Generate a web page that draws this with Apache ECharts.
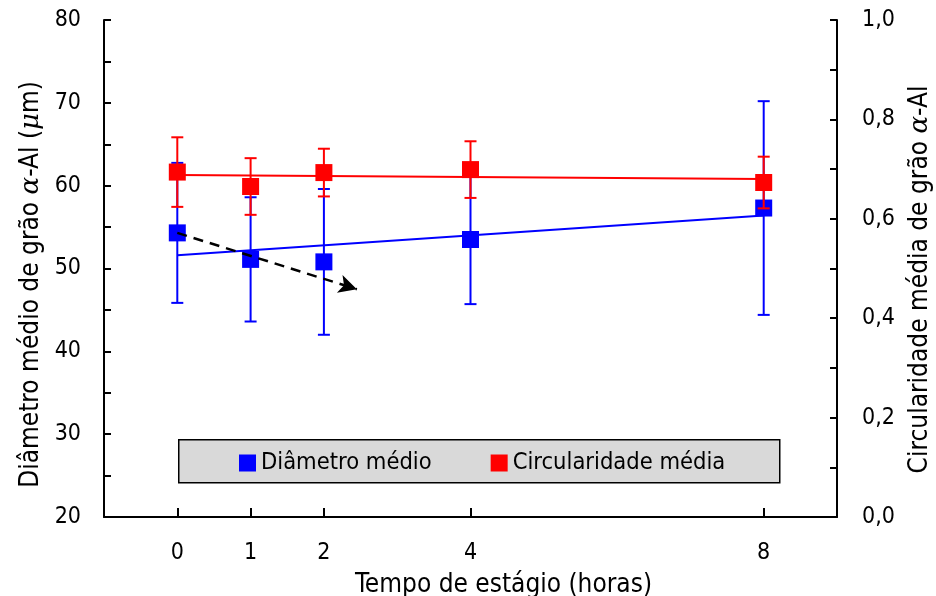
<!DOCTYPE html>
<html>
<head>
<meta charset="utf-8">
<script src="https://cdn.jsdelivr.net/npm/echarts@6/dist/echarts.min.js"></script>
<style>
html,body{margin:0;padding:0;background:#fff;overflow:hidden;}
#c{width:936px;height:596px;}
</style>
</head>
<body>
<div id="c"></div>
<script>
// ---- data ----
const hours = [0, 1, 2, 4, 8];
const xTicks = [0, 1, 2, 4, 8];
const diamMean = [54.3, 51.1, 50.8, 53.5, 57.3];
const diamErr = [8.45, 7.5, 8.8, 7.8, 12.9];
const circMean = [0.694, 0.665, 0.693, 0.699, 0.673];
const circErr = [0.070, 0.057, 0.048, 0.057, 0.052];
const diamTrendX = [0, 8];
const diamTrendY = [51.6, 56.4];
const circTrendX = [0, 8];
const circTrendY = [0.688, 0.680];
const arrowFrom = [0, 54.3];
const arrowTo = [2.45, 47.5];
const seriesNames = ['Diâmetro médio', 'Circularidade média'];

const FONT = '"DejaVu Sans Condensed", "Liberation Sans", sans-serif';
const BLUE = '#0000ff', RED = '#ff0000';

function pairs(xs, ys) { return xs.map((x, i) => [x, ys[i]]); }
function errData(xs, m, e) { return xs.map((x, i) => [x, m[i] - e[i], m[i] + e[i]]); }

function errRender(color) {
  return function (params, api) {
    const x = api.value(0);
    const pLo = api.coord([x, api.value(1)]);
    const pHi = api.coord([x, api.value(2)]);
    const hw = 6;
    const st = { stroke: color, lineWidth: 2 };
    return {
      type: 'group',
      children: [
        { type: 'line', shape: { x1: pLo[0], y1: pLo[1], x2: pHi[0], y2: pHi[1] }, style: st },
        { type: 'line', shape: { x1: pLo[0] - hw, y1: pLo[1], x2: pLo[0] + hw, y2: pLo[1] }, style: st },
        { type: 'line', shape: { x1: pHi[0] - hw, y1: pHi[1], x2: pHi[0] + hw, y2: pHi[1] }, style: st }
      ]
    };
  };
}

const chart = echarts.init(document.getElementById('c'), null, { renderer: 'canvas' });
const axisLineStyle = { color: '#000', width: 2 };
const richName = {
  i: { fontFamily: '"DejaVu Serif", serif', fontStyle: 'italic', fontSize: 26, color: '#000' }
};

chart.setOption({
  backgroundColor: '#fff',
  animation: false,
  textStyle: { fontFamily: FONT },
  grid: { left: 104, right: 99, top: 20, bottom: 79, containLabel: false, outerBoundsMode: 'none' },
  graphic: [{
    type: 'rect', left: 178, top: 439, z: 1,
    shape: { width: 601, height: 43 },
    style: { fill: '#d9d9d9', stroke: '#000', lineWidth: 1.5 }
  }],
  legend: {
    data: seriesNames.map(n => ({ name: n, icon: 'rect' })),
    left: 239, top: 451, padding: 0, z: 10,
    itemWidth: 17, itemHeight: 17, itemGap: 59,
    textStyle: { fontFamily: FONT, fontSize: 23.5, color: '#000', padding: [5, 0, 0, 0] },
    selectedMode: false
  },
  xAxis: {
    type: 'value', min: -1, max: 9,
    name: 'Tempo de estágio (horas)', nameLocation: 'middle', nameGap: 55,
    nameTextStyle: { fontFamily: FONT, fontSize: 26, color: '#000', padding: [0, 0, 0, 66] },
    axisLine: { show: true, onZero: false, lineStyle: axisLineStyle },
    axisTick: { show: true, inside: true, length: 9, customValues: xTicks, lineStyle: axisLineStyle },
    axisLabel: { customValues: xTicks, fontFamily: FONT, fontSize: 23, color: '#000', margin: 25 },
    splitLine: { show: false }
  },
  yAxis: [{
    type: 'value', min: 20, max: 80, interval: 5, position: 'left',
    name: 'Diâmetro médio de grão {i|α}-Al ({i|μ}m)', nameLocation: 'middle', nameGap: 60,
    nameTextStyle: { fontFamily: FONT, fontSize: 26, color: '#000', rich: richName, padding: [0, 32, 0, 0] },
    axisLine: { show: true, onZero: false, lineStyle: axisLineStyle },
    axisTick: { show: true, inside: true, length: 7, lineStyle: axisLineStyle },
    axisLabel: {
      fontFamily: FONT, fontSize: 23, color: '#000', margin: 23, padding: [6, 0, 0, 0],
      formatter: v => (Math.round(v) % 10 === 0 ? String(v) : '')
    },
    splitLine: { show: false }
  }, {
    type: 'value', min: 0, max: 1, interval: 0.1, position: 'right',
    name: 'Circularidade média de grão {i|α}-Al', nameLocation: 'middle', nameGap: 70,
    nameTextStyle: { fontFamily: FONT, fontSize: 26, color: '#000', rich: richName, padding: [0, 22, 0, 0] },
    axisLine: { show: true, onZero: false, lineStyle: axisLineStyle },
    axisTick: { show: true, inside: true, length: 7, lineStyle: axisLineStyle },
    axisLabel: {
      fontFamily: FONT, fontSize: 23, color: '#000', margin: 25, padding: [6, 0, 0, 0],
      formatter: v => (Math.round(v * 10) % 2 === 0 ? v.toFixed(1).replace('.', ',') : '')
    },
    splitLine: { show: false }
  }],
  series: [
    {
      name: 'diamTrend', type: 'line', yAxisIndex: 0, z: 2,
      data: pairs(diamTrendX, diamTrendY), symbol: 'none',
      lineStyle: { color: BLUE, width: 2 }, silent: true
    },
    {
      name: 'diamErr', type: 'custom', yAxisIndex: 0, z: 3,
      data: errData(hours, diamMean, diamErr), renderItem: errRender(BLUE), silent: true
    },
    {
      name: seriesNames[0], type: 'scatter', yAxisIndex: 0, z: 4,
      data: pairs(hours, diamMean), symbol: 'rect', symbolSize: 17,
      itemStyle: { color: BLUE, opacity: 1 }
    },
    {
      name: 'arrow', type: 'line', yAxisIndex: 0, z: 5, data: [], silent: true,
      markLine: {
        silent: true, animation: false,
        symbol: ['none', 'arrow'], symbolSize: [14, 18],
        label: { show: false },
        lineStyle: { color: '#000', width: 2.5, type: [10, 7] },
        data: [[{ coord: arrowFrom }, { coord: arrowTo }]]
      }
    },
    {
      name: 'circTrend', type: 'line', yAxisIndex: 1, z: 6,
      data: pairs(circTrendX, circTrendY), symbol: 'none',
      lineStyle: { color: RED, width: 2 }, silent: true
    },
    {
      name: 'circErr', type: 'custom', yAxisIndex: 1, z: 7,
      data: errData(hours, circMean, circErr), renderItem: errRender(RED), silent: true
    },
    {
      name: seriesNames[1], type: 'scatter', yAxisIndex: 1, z: 8,
      data: pairs(hours, circMean), symbol: 'rect', symbolSize: 17,
      itemStyle: { color: RED, opacity: 1 }
    }
  ]
});
</script>
</body>
</html>
